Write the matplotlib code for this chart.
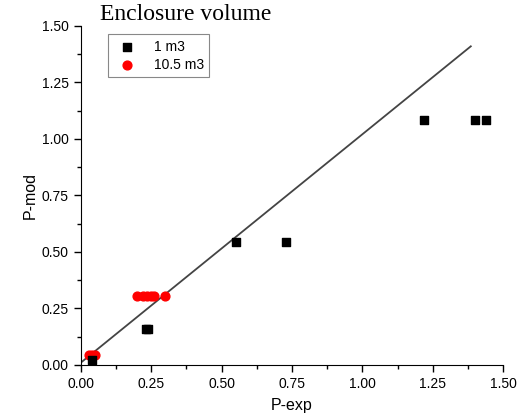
import matplotlib
matplotlib.use("Agg")
import matplotlib.pyplot as plt
from matplotlib.ticker import MultipleLocator

plt.rcParams['font.family'] = ['Liberation Sans', 'DejaVu Sans']

# 1 m3 enclosure
x_small = [0.04, 0.23, 0.24, 0.55, 0.73, 1.22, 1.40, 1.44]
y_small = [0.02, 0.16, 0.16, 0.545, 0.545, 1.085, 1.085, 1.085]

# 10.5 m3 enclosure
x_large = [0.03, 0.04, 0.05, 0.20, 0.22, 0.235, 0.25, 0.26, 0.30]
y_large = [0.045, 0.045, 0.045, 0.305, 0.305, 0.305, 0.305, 0.305, 0.305]

# fit line end points
x_fit = [0.0, 1.385]
y_fit = [0.01, 1.41]

fig = plt.figure(figsize=(5.28, 4.19), dpi=100)
ax = fig.add_axes([0.153, 0.129, 0.8, 0.809])

ax.plot(x_fit, y_fit, color='#444444', lw=1.3, zorder=1)
ax.scatter(x_small, y_small, marker='s', s=30, color='black', label='1 m3', zorder=3)
ax.scatter(x_large, y_large, marker='o', s=40, color='#ff0000', label='10.5 m3', zorder=2)

ax.set_xlim(0, 1.5)
ax.set_ylim(0, 1.5)
ax.xaxis.set_major_locator(MultipleLocator(0.25))
ax.yaxis.set_major_locator(MultipleLocator(0.25))
ax.xaxis.set_minor_locator(MultipleLocator(0.125))
ax.yaxis.set_minor_locator(MultipleLocator(0.125))
ax.xaxis.set_major_formatter(plt.FormatStrFormatter('%.2f'))
ax.yaxis.set_major_formatter(plt.FormatStrFormatter('%.2f'))
ax.tick_params(which='major', length=5, width=1, labelsize=10)
ax.tick_params(which='minor', length=3, width=1)
ax.spines['top'].set_visible(False)
ax.spines['right'].set_visible(False)

ax.set_xlabel('P-exp', fontsize=11.5, labelpad=5)
ax.set_ylabel('P-mod', fontsize=11.5, labelpad=3)

fig.text(0.19, 0.966, 'Enclosure volume', family='Liberation Serif', fontsize=17, va='center')

leg = ax.legend(loc='upper left', bbox_to_anchor=(0.064, 0.976), fontsize=10,
                fancybox=False, edgecolor='#888888', framealpha=1, borderaxespad=0,
                handletextpad=0.9, borderpad=0.4, labelspacing=0.3)
leg.get_frame().set_linewidth(0.8)

plt.savefig('out.png', dpi=100)
